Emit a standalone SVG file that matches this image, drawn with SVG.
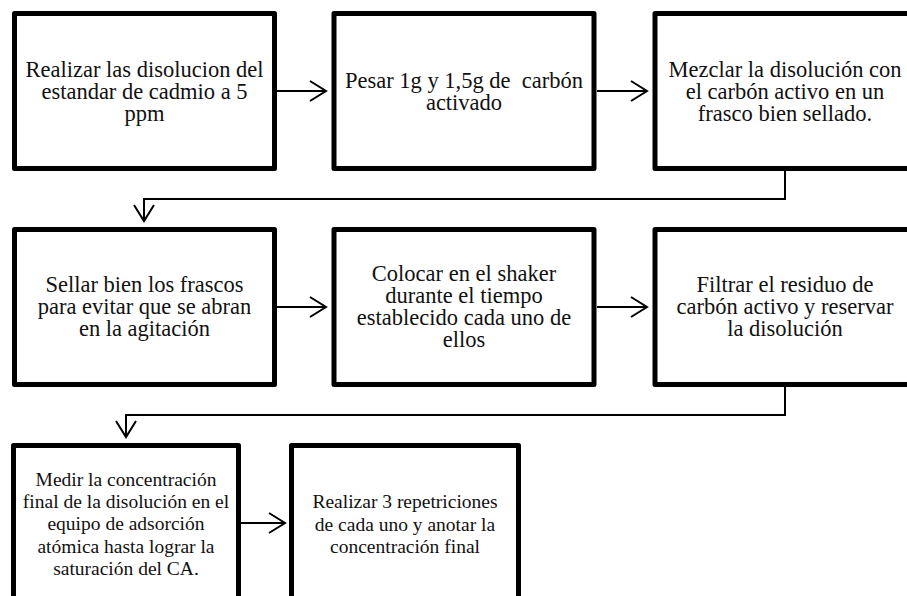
<svg xmlns="http://www.w3.org/2000/svg" width="907" height="596" viewBox="0 0 907 596">
<style>
.box{fill:#fff;stroke:#000;stroke-width:5;stroke-linejoin:round}
.t{font-family:"Liberation Serif","Times New Roman",serif;font-size:22.5px;fill:#111;text-anchor:middle;white-space:pre}
.s{font-size:19.5px}
.c{fill:none;stroke:#000;stroke-width:2}
</style>
<defs>
<marker id="arr" markerUnits="userSpaceOnUse" markerWidth="20" markerHeight="24" refX="17" refY="11" orient="auto" viewBox="0 0 20 22">
<path d="M1,1 L17,11 L1,21" fill="none" stroke="#000" stroke-width="2"/>
</marker>
</defs>
<rect width="907" height="596" fill="#fff"/>
<g id="connectors">
<path class="c" d="M277,91 H326" marker-end="url(#arr)"/>
<path class="c" d="M597,91 H647" marker-end="url(#arr)"/>
<path class="c" d="M785,171 V199 H144 V221" marker-end="url(#arr)"/>
<path class="c" d="M277,307 H326" marker-end="url(#arr)"/>
<path class="c" d="M597,307 H647" marker-end="url(#arr)"/>
<path class="c" d="M785,387 V415 H126 V437" marker-end="url(#arr)"/>
<path class="c" d="M241,523 H285" marker-end="url(#arr)"/>
</g>
<g id="n1">
<rect class="box" x="14.5" y="13.5" width="260" height="155"/>
<text class="t" y="76.5"><tspan x="144.5">Realizar las disolucion del</tspan><tspan x="144.5" dy="22">estandar de cadmio a 5</tspan><tspan x="144.5" dy="22">ppm</tspan></text>
</g>
<g id="n2">
<rect class="box" x="334" y="13.5" width="260" height="155"/>
<text class="t" y="87.5"><tspan x="464">Pesar 1g y 1,5g de  carbón</tspan><tspan x="464" dy="22">activado</tspan></text>
</g>
<g id="n3">
<rect class="box" x="655" y="13.5" width="260" height="155"/>
<text class="t" y="76.5"><tspan x="785">Mezclar la disolución con</tspan><tspan x="785" dy="22">el carbón activo en un</tspan><tspan x="785" dy="22">frasco bien sellado.</tspan></text>
</g>
<g id="n4">
<rect class="box" x="14.5" y="229.5" width="260" height="155"/>
<text class="t" y="291.5"><tspan x="144.5">Sellar bien los frascos</tspan><tspan x="144.5" dy="22">para evitar que se abran</tspan><tspan x="144.5" dy="22">en la agitación</tspan></text>
</g>
<g id="n5">
<rect class="box" x="334" y="229.5" width="260" height="155"/>
<text class="t" y="280.5"><tspan x="464">Colocar en el shaker</tspan><tspan x="464" dy="22">durante el tiempo</tspan><tspan x="464" dy="22">establecido cada uno de</tspan><tspan x="464" dy="22">ellos</tspan></text>
</g>
<g id="n6">
<rect class="box" x="655" y="229.5" width="260" height="155"/>
<text class="t" y="291.5"><tspan x="785">Filtrar el residuo de</tspan><tspan x="785" dy="22">carbón activo y reservar</tspan><tspan x="785" dy="22">la disolución</tspan></text>
</g>
<g id="n7">
<rect class="box" x="13.5" y="445.5" width="225" height="155"/>
<text class="t s" y="486"><tspan x="126">Medir la concentración</tspan><tspan x="126" dy="22.2">final de la disolución en el</tspan><tspan x="126" dy="22.2">equipo de adsorción</tspan><tspan x="126" dy="22.2">atómica hasta lograr la</tspan><tspan x="126" dy="22.2">saturación del CA.</tspan></text>
</g>
<g id="n8">
<rect class="box" x="291.5" y="445.5" width="227" height="155"/>
<text class="t s" y="508.3"><tspan x="405">Realizar 3 repetriciones</tspan><tspan x="405" dy="22.2">de cada uno y anotar la</tspan><tspan x="405" dy="22.2">concentración final</tspan></text>
</g>
</svg>
